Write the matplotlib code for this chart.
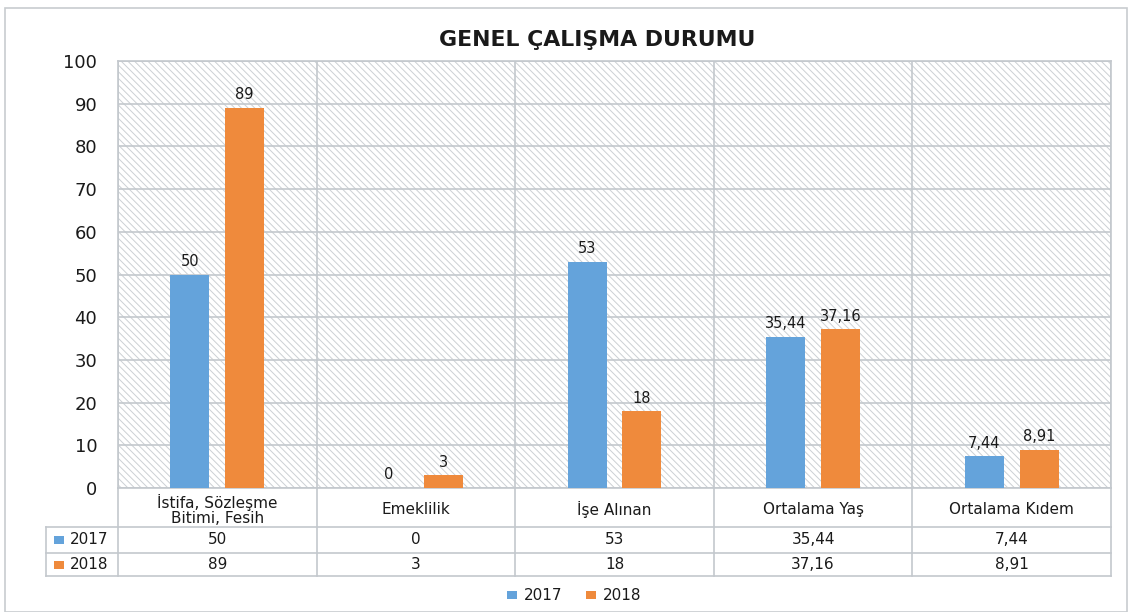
import matplotlib
matplotlib.use("Agg")
import matplotlib.pyplot as plt
from matplotlib.patches import Rectangle

categories = ["İstifa, Sözleşme\nBitimi, Fesih", "Emeklilik", "İşe Alınan",
              "Ortalama Yaş", "Ortalama Kıdem"]
series_names = ["2017", "2018"]
values_2017 = [50, 0, 53, 35.44, 7.44]
values_2018 = [89, 3, 18, 37.16, 8.91]
labels_2017 = ["50", "0", "53", "35,44", "7,44"]
labels_2018 = ["89", "3", "18", "37,16", "8,91"]
yticks = [0, 10, 20, 30, 40, 50, 60, 70, 80, 90, 100]

BLUE = "#64a3db"
ORANGE = "#ef8a3c"
GRID = "#c3c8cd"
TEXT = "#1a1a1a"

plt.rcParams["font.family"] = ["DejaVu Sans"]
plt.rcParams["hatch.linewidth"] = 0.7

W, H = 1132, 612
fig = plt.figure(figsize=(W / 100, H / 100), dpi=100)

# outer frame
fig.add_artist(Rectangle((5 / W, 0), (W - 10) / W, (H - 8) / H,
                         transform=fig.transFigure, fill=False,
                         edgecolor="#c8cccf", linewidth=1.2))

# main plot area
x0, x1, y0, y1 = 118, 1111, 61, 488
ax = fig.add_axes([x0 / W, 1 - y1 / H, (x1 - x0) / W, (y1 - y0) / H])
ax.set_xlim(-0.5, len(categories) - 0.5)
ax.set_ylim(0, 100)
ax.patch.set_alpha(0)
ax.add_patch(Rectangle((0, 0), 1, 1, transform=ax.transAxes, facecolor="white",
                       edgecolor="#ccd0d4", linewidth=0, hatch="\\\\\\\\\\", zorder=0))
for y in yticks:
    ax.axhline(y, color=GRID, linewidth=1.2, zorder=1)
for i in range(len(categories) + 1):
    ax.axvline(i - 0.5, color=GRID, linewidth=1.2, zorder=1)
for s in ax.spines.values():
    s.set_color(GRID)
    s.set_linewidth(1.2)

idx = list(range(len(categories)))
bw = 0.197
off = 0.138
b1 = ax.bar([i - off for i in idx], values_2017, bw, color=BLUE, zorder=3)
b2 = ax.bar([i + off for i in idx], values_2018, bw, color=ORANGE, zorder=3)
ax.bar_label(b1, labels=labels_2017, padding=4, fontsize=10.5, color=TEXT)
ax.bar_label(b2, labels=labels_2018, padding=4, fontsize=10.5, color=TEXT)

ax.set_yticks(yticks)
ax.set_yticklabels([str(v) for v in yticks], fontsize=13, color=TEXT)
ax.tick_params(axis="y", length=0, pad=15)
ax.set_xticks([])

fig.text(597 / W, 1 - 40 / H, "GENEL ÇALIŞMA DURUMU", ha="center", va="center",
         fontsize=15.8, fontweight="bold", color=TEXT)

# data table below the plot (pixel coordinates)
tab = fig.add_axes([0, 0, 1, 1], zorder=-1)
tab.set_xlim(0, W)
tab.set_ylim(H, 0)
tab.axis("off")
cw = (x1 - x0) / len(categories)
r0, r1, r2, r3 = 488, 527, 553, 576
lx = 46
for i in range(len(categories) + 1):
    xx = x0 + i * cw
    tab.plot([xx, xx], [r0, r3], color=GRID, linewidth=1.2)
tab.plot([lx, lx], [r1, r3], color=GRID, linewidth=1.2)
for yy in (r1, r2, r3):
    tab.plot([lx, x1], [yy, yy], color=GRID, linewidth=1.2)

for i, c in enumerate(categories):
    cx = x0 + (i + 0.5) * cw
    tab.text(cx, (r0 + r1) / 2 + 2, c, ha="center", va="center", fontsize=11,
             color=TEXT, linespacing=1.0)
    tab.text(cx, (r1 + r2) / 2, labels_2017[i], ha="center", va="center",
             fontsize=11, color=TEXT)
    tab.text(cx, (r2 + r3) / 2, labels_2018[i], ha="center", va="center",
             fontsize=11, color=TEXT)

for (yy0, yy1), name, col in zip([(r1, r2), (r2, r3)], series_names, [BLUE, ORANGE]):
    ym = (yy0 + yy1) / 2
    tab.add_patch(Rectangle((54, ym - 4), 10, 8, facecolor=col, edgecolor="none"))
    tab.text(70, ym, name, ha="left", va="center", fontsize=11, color=TEXT)

# legend at bottom
for xx, name, col in zip([507, 586], series_names, [BLUE, ORANGE]):
    tab.add_patch(Rectangle((xx, 591), 10, 8, facecolor=col, edgecolor="none"))
    tab.text(xx + 17, 595, name, ha="left", va="center", fontsize=11, color=TEXT)

fig.savefig("out.png", dpi=100)
